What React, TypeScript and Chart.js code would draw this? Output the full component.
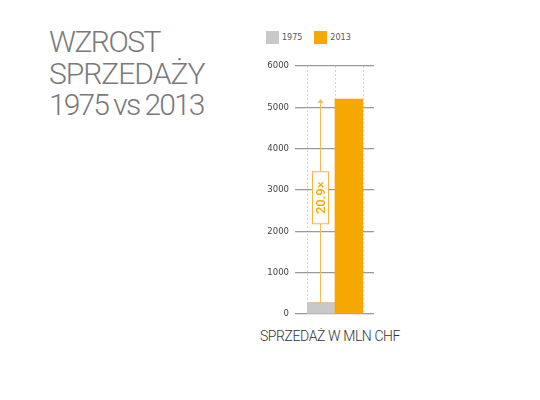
import React, { useEffect, useRef } from 'react';
import { Chart, registerables } from 'chart.js';

Chart.register(...registerables);

const categories = ['1975', '2013'];
const salesMlnChf = [280, 5200];
const seriesColors = ['#c8c8c8', '#f7a800'];
const yMin = 0;
const yMax = 6000;
const yStep = 1000;
const ratioLabel = '20.9×';
const titleLines = ['WZROST', 'SPRZEDAŻY', '1975 vs 2013'];
const axisTitle = 'SPRZEDAŻ W MLN CHF';

const FONT = 'Roboto, "Open Sans", "DejaVu Sans", sans-serif';
const SMALL_FONT = '"DejaVu Sans", Verdana, sans-serif';
const titleSpacing = ['-1.5px', '-1px', '-1.9px'];

const ratioArrowPlugin = {
  id: 'ratioArrow',
  afterDatasetsDraw(chart: any) {
    const { ctx } = chart;
    const x = chart.scales.x;
    const y = chart.scales.y;
    const cx = Math.round(x.getPixelForValue(0)) - 0.5;
    const yLow = y.getPixelForValue(salesMlnChf[0]);
    const yHigh = y.getPixelForValue(salesMlnChf[1]);
    ctx.save();
    ctx.strokeStyle = '#f6bb55';
    ctx.fillStyle = '#f6bb55';
    ctx.lineWidth = 1;
    ctx.beginPath();
    ctx.moveTo(cx, yLow);
    ctx.lineTo(cx, yHigh + 3);
    ctx.stroke();
    ctx.beginPath();
    ctx.moveTo(cx - 7, yLow + 0.5);
    ctx.lineTo(cx + 7, yLow + 0.5);
    ctx.stroke();
    ctx.beginPath();
    ctx.moveTo(cx, yHigh);
    ctx.lineTo(cx - 3, yHigh + 4);
    ctx.lineTo(cx + 3, yHigh + 4);
    ctx.closePath();
    ctx.fill();
    const mid = (yLow + yHigh) / 2 - 3;
    const bw = 16;
    const bh = 52;
    ctx.fillStyle = '#ffffff';
    ctx.fillRect(cx - bw / 2, mid - bh / 2, bw, bh);
    ctx.strokeStyle = '#f7b63c';
    ctx.strokeRect(cx - bw / 2, mid - bh / 2, bw, bh);
    ctx.translate(cx + 0.5, mid);
    ctx.rotate(-Math.PI / 2);
    ctx.fillStyle = '#f7a800';
    ctx.font = `500 13px ${FONT}`;
    ctx.textAlign = 'center';
    ctx.textBaseline = 'middle';
    ctx.fillText(ratioLabel, 0, 1);
    ctx.restore();
  },
};

export default function App() {
  const canvasRef = useRef<HTMLCanvasElement | null>(null);

  useEffect(() => {
    if (!canvasRef.current) return;
    const chart = new Chart(canvasRef.current, {
      type: 'bar',
      data: {
        labels: categories,
        datasets: [
          {
            label: 'Sprzedaż',
            data: salesMlnChf,
            backgroundColor: seriesColors,
            borderWidth: 0,
            barPercentage: 1,
            categoryPercentage: 1,
          },
        ],
      },
      options: {
        animation: false,
        responsive: true,
        maintainAspectRatio: false,
        layout: { padding: { left: 247, right: 166, top: 66, bottom: 58 } },
        plugins: {
          legend: { display: false },
          tooltip: { enabled: false },
        },
        scales: {
          x: {
            offset: true,
            afterFit: (s: any) => {
              s.height = 28;
            },
            ticks: { display: false },
            grid: {
              color: '#d4d4d4',
              lineWidth: 1,
              drawTicks: false,
            },
            border: { display: false, dash: [2, 2] },
          },
          y: {
            position: 'left',
            min: yMin,
            max: yMax,
            afterFit: (s: any) => {
              s.width = 60;
            },
            ticks: {
              stepSize: yStep,
              padding: 6,
              color: '#444444',
              font: { family: SMALL_FONT, size: 8.5 },
              callback: (v: any) => String(v),
            },
            grid: {
              color: '#9a9a9a',
              lineWidth: 1.3,
              tickLength: 12,
            },
            border: { display: false },
          },
          y2: {
            position: 'right',
            min: yMin,
            max: yMax,
            afterFit: (s: any) => {
              s.width = 11;
            },
            ticks: { stepSize: yStep, display: false },
            grid: {
              color: '#9a9a9a',
              lineWidth: 1.3,
              tickLength: 11,
              drawOnChartArea: false,
            },
            border: { display: false },
          },
        },
      },
      plugins: [ratioArrowPlugin],
    });
    return () => chart.destroy();
  }, []);

  return (
    <div
      style={{
        position: 'fixed',
        left: 0,
        top: 0,
        width: 540,
        height: 400,
        background: '#ffffff',
      }}
    >
      <div
        style={{
          position: 'absolute',
          left: 49,
          top: 26,
          fontFamily: FONT,
          fontWeight: 300,
          fontSize: 30,
          lineHeight: '31.5px',
          color: '#7a7a7a',
          whiteSpace: 'nowrap',
        }}
      >
        {titleLines.map((t, i) => (
          <div key={t} style={{ letterSpacing: titleSpacing[i] }}>
            {t}
          </div>
        ))}
      </div>
      <div
        style={{
          position: 'absolute',
          left: 266,
          top: 31,
          display: 'flex',
          alignItems: 'center',
          fontFamily: SMALL_FONT,
          fontSize: 8,
          color: '#555555',
        }}
      >
        {categories.map((c, i) => (
          <div key={c} style={{ display: 'flex', alignItems: 'center', marginRight: 12 }}>
            <span
              style={{
                display: 'inline-block',
                width: 13,
                height: 13,
                background: seriesColors[i],
                marginRight: 3,
              }}
            />
            <span>{c}</span>
          </div>
        ))}
      </div>
      <div
        style={{
          position: 'absolute',
          left: 230,
          top: 329,
          width: 200,
          textAlign: 'center',
          fontFamily: FONT,
          fontWeight: 300,
          fontSize: 14,
          lineHeight: '14px',
          letterSpacing: '-0.4px',
          color: '#333333',
          whiteSpace: 'nowrap',
        }}
      >
        {axisTitle}
      </div>
      <div style={{ position: 'absolute', left: 0, top: 0, width: 540, height: 400 }}>
        <canvas ref={canvasRef} />
      </div>
    </div>
  );
}
